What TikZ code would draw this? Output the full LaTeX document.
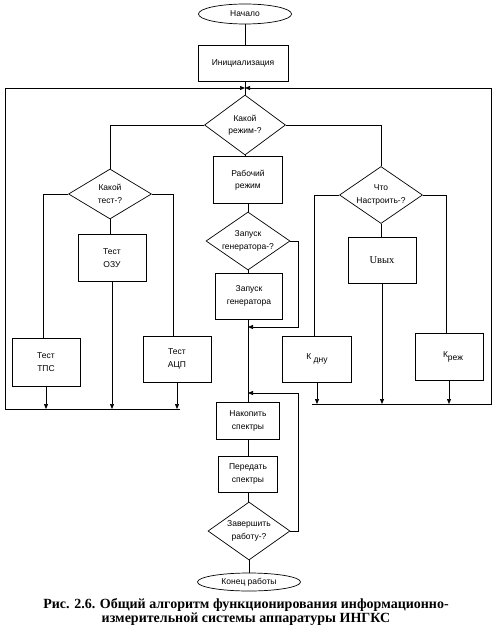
\documentclass[tikz,border=0pt]{standalone}
\usepackage{fontspec}
\setmainfont{Liberation Serif}
\newfontfamily\ar{Liberation Sans}
\usetikzlibrary{shapes.geometric,arrows.meta}
\tikzset{
  box/.style 2 args={draw, rectangle, minimum width=#1, minimum height=#2},
  dia/.style 2 args={draw, diamond, inner sep=-6pt, minimum width=#1, minimum height=#2},
  ell/.style 2 args={draw, ellipse, minimum width=#1, minimum height=#2},
  arr/.style={-{Triangle[length=5pt,width=4pt]}},
}
\begin{document}
\begin{tikzpicture}[x=1pt,y=-1pt, line width=0.7pt,
  every node/.style={font=\ar\fontsize{8.5}{12.5}\selectfont, align=center, inner sep=0pt}]
\useasboundingbox (0,0) rectangle (497,634);

% top
\node[ell={93}{20}] (start) at (245,14) {Начало};
\node[box={90}{36}] (init) at (243,63) {Инициализация};
\node[dia={81}{60}] (mode) at (245,125) {Какой\\режим-?};
\coordinate (J) at (245,88);
\draw (start.south) -- (start.south |- init.north);
\draw (init.south -| J) -- (mode.north);

% left branch
\node[dia={83}{50}] (test) at (110,194) {Какой\\тест-?};
\node[box={68}{47}] (ozu) at (112,258) {Тест\\ОЗУ};
\node[box={68}{48}] (tps) at (46,362) {Тест\\ТПС};
\node[box={68}{46}] (adc) at (177,359) {Тест\\АЦП};
\draw (mode.west) -| (test.north);
\draw (test.west) -| ([xshift=-3pt]tps.north);
\draw (test.east) -| ([xshift=-4pt]adc.north);
\draw (test.south) -- (test.south |- ozu.north);
\coordinate (LL) at (5,409);
\coordinate (LR) at (180,409);
\draw[arr] (tps.south) -- (tps.south |- LL);
\draw[arr] (ozu.south) -- (ozu.south |- LL);
\draw[arr] (adc.south) -- (adc.south |- LL);
\draw[arr] (LR) -- (LL) -- (LL |- J) -- (J);

% right branch
\node[dia={83}{57}] (what) at (381,195) {Что\\Настроить-?};
\node[box={68}{46}] (uout) at (382,260) {{\rmfamily\fontsize{10.5}{12}\selectfont Uвых}};
\node[box={69}{46}] (kdnu) at (317,359) {К \raisebox{-3pt}{дну}};
\node[box={68}{47}] (kreg) at (449,357) {\hspace{8pt}К\raisebox{-3pt}{реж}};
\draw (mode.east) -| (what.north);
\draw (what.west) -| ([xshift=-3pt]kdnu.north);
\draw (what.east) -| ([xshift=-3pt]kreg.north);
\draw (what.south) -- (what.south |- uout.north);
\coordinate (RL) at (312,404);
\coordinate (RR) at (491,404);
\draw[arr] (kdnu.south) -- (kdnu.south |- RL);
\draw[arr] (uout.south) -- (uout.south |- RL);
\draw[arr] (kreg.south) -- (kreg.south |- RL);
\draw[arr] (RL) -- (RR) -- (RR |- J) -- (J);

% middle column
\node[box={69}{47}] (work) at (248,180) {Рабочий\\режим};
\node[dia={84}{58}] (gen) at (248,241) {Запуск\\генератора-?};
\node[box={67}{46}] (genbox) at (249,296) {Запуск\\генератора};
\node[box={63}{37}] (acc) at (248,421) {Накопить\\спектры};
\node[box={59}{36}] (send) at (248,474) {Передать\\спектры};
\node[dia={82}{58}] (fin) at (249,531) {Завершить\\работу-?};
\node[ell={103}{18}] (end) at (249,582) {Конец работы};
\coordinate (M1) at (248,327);
\coordinate (R1) at (298,327);
\coordinate (M2) at (248,393);
\coordinate (R2) at (298,393);
\draw (mode.south) -- (mode.south |- work.north);
\draw (work.south) -- (gen.north);
\draw (gen.south) -- (gen.south |- genbox.north);
\draw[arr] (gen.east) -| (R1) -- (M1);
\draw (gen.south |- genbox.south) -- (acc.north);
\draw[arr] (fin.east) -| (R2) -- (M2);
\draw (acc.south) -- (send.north);
\draw (send.south) -- (send.south |- fin.north);
\draw (fin.south) -- (end.north);

% caption
\node[font=\rmfamily\bfseries\fontsize{14}{14.5}\selectfont, align=center] (cap) at (246,612)
  {Рис. 2.6. Общий алгоритм функционирования информационно-\\измерительной системы аппаратуры ИНГКС};
\end{tikzpicture}
\end{document}
